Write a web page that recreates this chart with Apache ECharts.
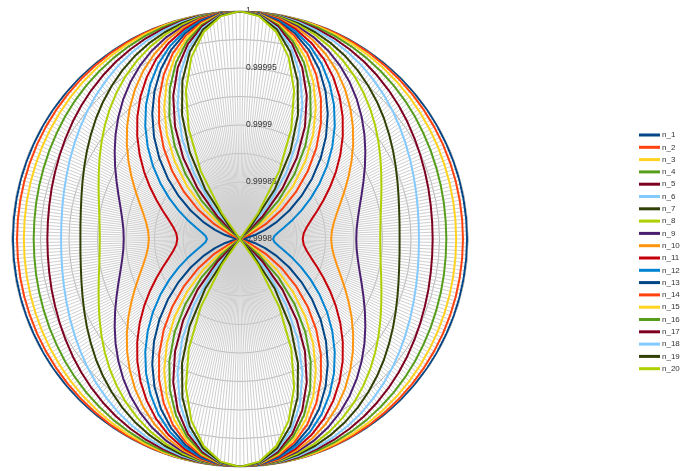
<!DOCTYPE html>
<html><head><meta charset="utf-8">
<script src="https://cdn.jsdelivr.net/npm/echarts@6/dist/echarts.min.js"></script>
<style>html,body{margin:0;padding:0;background:#fff}#c{width:682px;height:471px}</style>
</head><body><div id="c"></div>
<script>
// Angles (degrees) of one quarter of each curve; the curves are symmetric
const quarterAngles = [0,5,10,15,20,25,30,35,40,45,50,55,60,65,70,75,80,85,90];
const seriesNames = ['n_1','n_2','n_3','n_4','n_5','n_6','n_7','n_8','n_9','n_10','n_11','n_12','n_13','n_14','n_15','n_16','n_17','n_18','n_19','n_20'];
const radiusTicks = ['0.9998','0.99985','0.9999','0.99995','1'];
// Radius values read at each quarter angle
const n_1  = [1,1,1,0.9999999,0.9999999,0.9999999,0.9999998,0.9999997,0.9999997,0.9999996,0.9999995,0.9999995,0.9999994,0.9999993,0.9999993,0.9999993,0.9999992,0.9999992,0.9999992];
const n_2  = [1,1,0.9999999,0.9999997,0.9999995,0.9999992,0.9999989,0.9999986,0.9999982,0.9999978,0.9999974,0.9999970,0.9999967,0.9999964,0.9999961,0.9999959,0.9999957,0.9999956,0.9999956];
const n_3  = [1,0.9999999,0.9999997,0.9999993,0.9999988,0.9999981,0.9999974,0.9999966,0.9999957,0.9999948,0.9999939,0.9999930,0.9999922,0.9999915,0.9999908,0.9999903,0.9999899,0.9999897,0.9999896];
const n_4  = [1,0.9999999,0.9999994,0.9999987,0.9999978,0.9999966,0.9999952,0.9999937,0.9999921,0.9999905,0.9999889,0.9999873,0.9999857,0.9999844,0.9999832,0.9999823,0.9999816,0.9999811,0.9999810];
const n_5  = [1,0.9999998,0.9999991,0.9999979,0.9999964,0.9999945,0.9999922,0.9999898,0.9999872,0.9999845,0.9999818,0.9999792,0.9999767,0.9999745,0.9999726,0.9999711,0.9999699,0.9999692,0.9999690];
const n_6  = [1,0.9999997,0.9999987,0.9999971,0.9999950,0.9999923,0.9999892,0.9999859,0.9999822,0.9999785,0.9999748,0.9999711,0.9999677,0.9999647,0.9999620,0.9999599,0.9999583,0.9999573,0.9999570];
const n_7  = [1,0.9999995,0.9999982,0.9999960,0.9999930,0.9999893,0.9999850,0.9999803,0.9999752,0.9999700,0.9999648,0.9999597,0.9999550,0.9999507,0.9999470,0.9999440,0.9999418,0.9999405,0.9999400];
const n_8  = [1,0.9999994,0.9999977,0.9999948,0.9999910,0.9999862,0.9999807,0.9999747,0.9999682,0.9999615,0.9999548,0.9999483,0.9999422,0.9999367,0.9999320,0.9999282,0.9999253,0.9999236,0.9999230];
const n_9  = [1,0.9999993,0.9999970,0.9999934,0.9999885,0.9999825,0.9999755,0.9999678,0.9999595,0.9999510,0.9999425,0.9999342,0.9999265,0.9999195,0.9999135,0.9999086,0.9999050,0.9999027,0.9999020];
const n_10 = [1,0.9999991,0.9999964,0.9999920,0.9999860,0.9999786,0.9999700,0.9999605,0.9999504,0.9999400,0.9999296,0.9999195,0.9999100,0.9999014,0.9998940,0.9998880,0.9998836,0.9998809,0.9998800];
const n_11 = [1,0.9999989,0.9999956,0.9999903,0.9999830,0.9999741,0.9999637,0.9999523,0.9999401,0.9999275,0.9999149,0.9999027,0.9998912,0.9998809,0.9998720,0.9998647,0.9998594,0.9998561,0.9998550];
const n_12 = [1,0.9999987,0.9999948,0.9999885,0.9999800,0.9999695,0.9999572,0.9999437,0.9999293,0.9999145,0.9998997,0.9998853,0.9998717,0.9998595,0.9998490,0.9998405,0.9998342,0.9998303,0.9998290];
const n_13 = [1,0.9999985,0.9999940,0.9999866,0.9999766,0.9999643,0.9999500,0.9999342,0.9999174,0.9999000,0.9998826,0.9998658,0.9998500,0.9998357,0.9998234,0.9998134,0.9998060,0.9998015,0.9998000];
const n_14 = [1,0.9999982,0.9999930,0.9999845,0.9999729,0.9999586,0.9999420,0.9999237,0.9999041,0.9998840,0.9998639,0.9998443,0.9998260,0.9998094,0.9998,0.9998,0.9998,0.9998,0.9998];
const n_15 = [1,0.9999980,0.9999919,0.9999820,0.9999686,0.9999521,0.9999330,0.9999118,0.9998893,0.9998660,0.9998427,0.9998202,0.9998,0.9998,0.9998,0.9998,0.9998,0.9998,0.9998];
const n_16 = [1,0.9999977,0.9999908,0.9999796,0.9999644,0.9999457,0.9999240,0.9999000,0.9998744,0.9998480,0.9998216,0.9998,0.9998,0.9998,0.9998,0.9998,0.9998,0.9998,0.9998];
const n_17 = [1,0.9999974,0.9999896,0.9999770,0.9999598,0.9999386,0.9999140,0.9998868,0.9998579,0.9998280,0.9998,0.9998,0.9998,0.9998,0.9998,0.9998,0.9998,0.9998,0.9998];
const n_18 = [1,0.9999970,0.9999881,0.9999736,0.9999539,0.9999296,0.9999015,0.9998704,0.9998372,0.9998030,0.9998,0.9998,0.9998,0.9998,0.9998,0.9998,0.9998,0.9998,0.9998];
const n_19 = [1,0.9999966,0.9999866,0.9999701,0.9999478,0.9999203,0.9998885,0.9998533,0.9998157,0.9998,0.9998,0.9998,0.9998,0.9998,0.9998,0.9998,0.9998,0.9998,0.9998];
const n_20 = [1,0.9999960,0.9999842,0.9999649,0.9999387,0.9999064,0.9998690,0.9998276,0.9998,0.9998,0.9998,0.9998,0.9998,0.9998,0.9998,0.9998,0.9998,0.9998,0.9998];
const quarterValues = [n_1,n_2,n_3,n_4,n_5,n_6,n_7,n_8,n_9,n_10,n_11,n_12,n_13,n_14,n_15,n_16,n_17,n_18,n_19,n_20];
const palette = ['#004586','#ff420e','#ffd320','#579d1c','#7e0021','#83caff','#314004','#aecf00','#4b1f6f','#ff950e','#c5000b','#0084d1'];

function fullCurve(q){
  const pts=[]; const L=q.length;
  for(let i=0;i<L;i++) pts.push([q[i], quarterAngles[i]]);
  for(let i=L-2;i>=0;i--) pts.push([q[i], 180-quarterAngles[i]]);
  for(let i=1;i<L;i++) pts.push([q[i], 180+quarterAngles[i]]);
  for(let i=L-2;i>=0;i--) pts.push([q[i], 360-quarterAngles[i]]);
  return pts;
}

const chart = echarts.init(document.getElementById('c'), null, {renderer:'canvas'});
chart.setOption({
  animation:false,
  backgroundColor:'#fff',
  color: palette,
  textStyle:{fontFamily:'Liberation Sans'},
  polar:{center:[240,239], radius:228},
  angleAxis:{
    type:'value', min:0, max:360, interval:1, startAngle:90, clockwise:true,
    axisLine:{show:true, lineStyle:{color:'#b3b3b3', width:1}},
    axisTick:{show:false}, axisLabel:{show:false},
    splitLine:{show:true, lineStyle:{color:'#cfcfcf', width:1}}
  },
  radiusAxis:{
    type:'value', min:0.9998, max:1, interval:0.00005,
    axisLine:{show:false}, axisTick:{show:false},
    minorTick:{show:false, splitNumber:2},
    minorSplitLine:{show:true, lineStyle:{color:'#b3b3b3', width:1}},
    splitLine:{show:true, lineStyle:{color:'#b3b3b3', width:1}},
    axisLabel:{fontSize:8.5, color:'#333', fontFamily:'Liberation Sans', margin:-6, align:'left',
      formatter:function(v){ const s=(+v).toFixed(5); const m=radiusTicks.find(t=>Math.abs(+t-v)<1e-8); return m||s; }}
  },
  legend:{
    orient:'vertical', left:639, top:130, padding:0,
    itemWidth:21, itemHeight:3, itemGap:2.3, icon:'rect',
    textStyle:{fontSize:8, color:'#333', lineHeight:10, fontFamily:'Liberation Sans', padding:[0,0,0,-3]},
    data: seriesNames
  },
  series: seriesNames.map((name,i)=>({
    name, type:'line', coordinateSystem:'polar', showSymbol:false, symbol:'none',
    lineStyle:{width:2}, data: fullCurve(quarterValues[i])
  }))
});
</script></body></html>
